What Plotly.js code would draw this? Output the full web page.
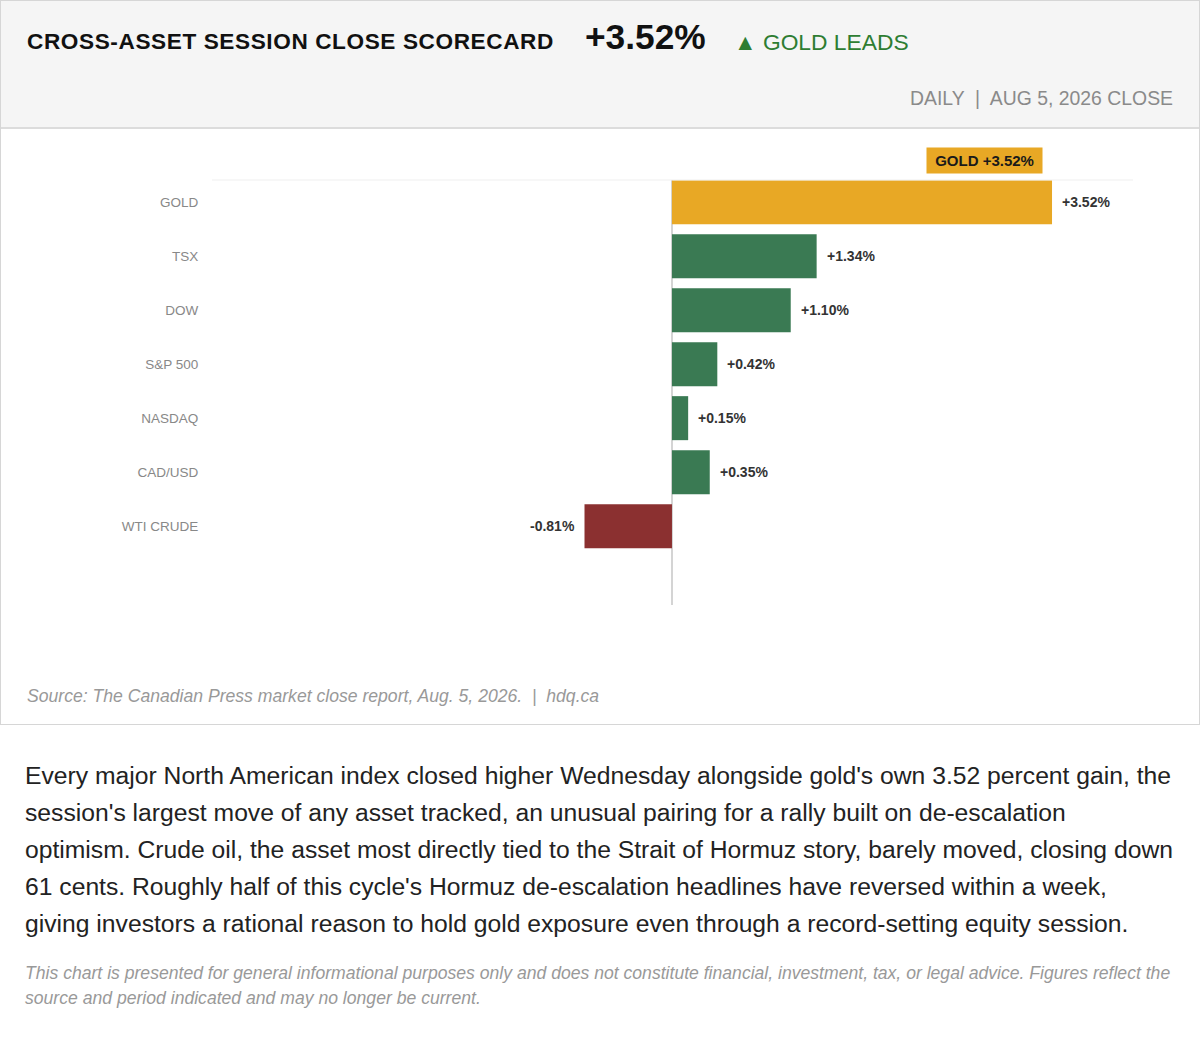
<!DOCTYPE html>
<html>
<head>
<meta charset="utf-8">
<script src="https://cdn.plot.ly/plotly-3.0.1.min.js"></script>
<style>
  body { margin: 0; background: #fff; font-family: "Liberation Sans", Arial, sans-serif; }
  .card { width: 1200px; height: 725px; border: 1px solid #d6d6d6; box-sizing: border-box; position: relative; }
  .head { height: 128px; background: #f5f5f5; border-bottom: 2px solid #dcdcdc; box-sizing: border-box; position: relative; }
  .title { position: absolute; left: 26px; top: 28px; font-size: 22.6px; letter-spacing: 0.6px; font-weight: bold; color: #111; }
  .big { position: absolute; left: 584px; top: 16px; font-size: 35.3px; font-weight: bold; color: #111; }
  .lead { position: absolute; left: 733px; top: 28px; font-size: 22.8px; color: #2e7d32; }
  .sub { position: absolute; right: 26px; top: 86px; font-size: 19.4px; color: #8a8a8a; }
  #myDiv { width: 1198px; height: 540px; }
  .src { position: absolute; left: 26px; top: 685px; font-size: 17.6px; font-style: italic; color: #999; }
  .body { margin: 32px 0 0 25px; width: 1148px; font-size: 24.7px; line-height: 37px; color: #222; }
  .disc { margin: 19px 0 0 25px; width: 1150px; font-size: 17.6px; line-height: 25px; font-style: italic; color: #999; }
</style>
</head>
<body>
<div class="card">
  <div class="head">
    <div class="title">CROSS-ASSET SESSION CLOSE SCORECARD</div>
    <div class="big">+3.52%</div>
    <div class="lead">&#9650; GOLD LEADS</div>
    <div class="sub">DAILY &nbsp;|&nbsp; AUG 5, 2026 CLOSE</div>
  </div>
  <div id="myDiv"></div>
  <div class="src">Source: The Canadian Press market close report, Aug. 5, 2026. &nbsp;|&nbsp; hdq.ca</div>
</div>
<div class="body">Every major North American index closed higher Wednesday alongside gold's own 3.52 percent gain, the session's largest move of any asset tracked, an unusual pairing for a rally built on de-escalation optimism. Crude oil, the asset most directly tied to the Strait of Hormuz story, barely moved, closing down 61 cents. Roughly half of this cycle's Hormuz de-escalation headlines have reversed within a week, giving investors a rational reason to hold gold exposure even through a record-setting equity session.</div>
<div class="disc">This chart is presented for general informational purposes only and does not constitute financial, investment, tax, or legal advice. Figures reflect the source and period indicated and may no longer be current.</div>

<script>
var assets = ['GOLD', 'TSX', 'DOW', 'S&P 500', 'NASDAQ', 'CAD/USD', 'WTI CRUDE'];
var changes = [3.52, 1.34, 1.10, 0.42, 0.15, 0.35, -0.81];

var GOLD_C = '#E8A825', UP_C = '#3A7A53', DOWN_C = '#8B3030';

function fmt(v) {
    return (v >= 0 ? '+' : '') + v.toFixed(2) + '%';
}

var colors = changes.map(function (v, i) {
    if (assets[i] === 'GOLD') return GOLD_C;
    return v >= 0 ? UP_C : DOWN_C;
});

var trace0 = {
    type: 'bar',
    orientation: 'h',
    x: changes,
    y: assets,
    width: 0.815,
    marker: { color: colors },
    hoverinfo: 'none'
};

// value labels next to each bar
var annotations = changes.map(function (v, i) {
    return {
        x: v, y: assets[i], xref: 'x', yref: 'y',
        text: '<b>' + fmt(v) + '</b>',
        showarrow: false,
        xanchor: v >= 0 ? 'left' : 'right',
        xshift: v >= 0 ? 8 : -8,
        font: { family: 'Liberation Sans, Arial', size: 14, color: '#333' }
    };
});

// leader badge above the top bar
var leader = changes.indexOf(Math.max.apply(null, changes));
annotations.push({
    x: changes[leader], xref: 'x',
    y: 1, yref: 'paper',
    yanchor: 'bottom', yshift: 6,
    xanchor: 'right', xshift: -9,
    text: '&nbsp;<b>' + assets[leader] + ' ' + fmt(changes[leader]) + '</b>&nbsp;',
    showarrow: false,
    bgcolor: GOLD_C,
    borderpad: 4,
    font: { family: 'Liberation Sans, Arial', size: 15, color: '#1a1a1a' }
});

var layout = {
    width: 1198,
    height: 540,
    margin: { l: 211, r: 66, t: 51, b: 64 },
    paper_bgcolor: '#fff',
    plot_bgcolor: '#fff',
    showlegend: false,
    xaxis: {
        range: [-4.26, 4.27],
        showgrid: false,
        showticklabels: false,
        zeroline: true,
        zerolinecolor: '#d4d4d4',
        zerolinewidth: 2,
        fixedrange: true
    },
    yaxis: {
        type: 'category',
        categoryorder: 'array',
        categoryarray: assets,
        range: [7.46, -0.41],
        showgrid: false,
        zeroline: false,
        ticks: 'outside',
        ticklen: 10,
        tickcolor: 'rgba(0,0,0,0)',
        tickfont: { family: 'Liberation Sans, Arial', size: 13.5, color: '#888' },
        fixedrange: true
    },
    shapes: [{
        type: 'line', xref: 'paper', yref: 'paper',
        x0: 0, x1: 1, y0: 1, y1: 1,
        line: { color: '#efefef', width: 1 }
    }],
    annotations: annotations
};

Plotly.newPlot('myDiv', [trace0], layout, { displayModeBar: false, staticPlot: true });
</script>
</body>
</html>
